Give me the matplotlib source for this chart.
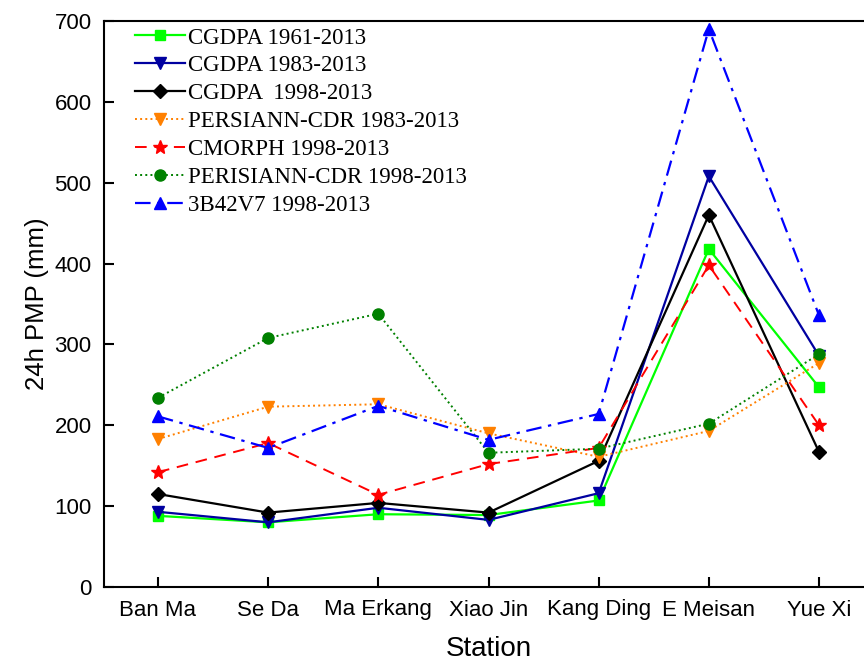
import matplotlib.pyplot as plt

stations = ['Ban Ma', 'Se Da', 'Ma Erkang', 'Xiao Jin', 'Kang Ding', 'E Meisan', 'Yue Xi']

cgdpa_1961 = [88, 80, 90, 89, 107, 418, 247]
cgdpa_1983 = [93, 80, 98, 83, 116, 508, 286]
cgdpa_1998 = [115, 92, 104, 92, 156, 460, 167]
persiann_1983 = [183, 223, 226, 190, 161, 193, 277]
cmorph_1998 = [142, 178, 114, 152, 172, 398, 200]
persiann_1998 = [234, 308, 338, 166, 171, 202, 288]
trmm_1998 = [211, 172, 224, 182, 214, 690, 336]

fig = plt.figure(figsize=(8.64, 6.66), dpi=100)
ax = fig.add_axes([104 / 864, 79 / 666, 769 / 864, 566 / 666])

x = range(len(stations))
ax.plot(x, cgdpa_1961, color='#00ff00', marker='s', ms=7, lw=1.6, label='CGDPA 1961-2013')
ax.plot(x, cgdpa_1983, color='#0000a0', marker='v', ms=9, lw=1.6, label='CGDPA 1983-2013')
ax.plot(x, cgdpa_1998, color='black', marker='D', ms=7, lw=1.6, label='CGDPA  1998-2013')
ax.plot(x, persiann_1983, color='#ff8000', marker='v', ms=9, lw=1.4, ls=':', label='PERSIANN-CDR 1983-2013')
ax.plot(x, cmorph_1998, color='red', marker='*', ms=10, lw=1.4, ls=(0, (6, 4)), label='CMORPH 1998-2013')
ax.plot(x, persiann_1998, color='#008000', marker='o', ms=8, lw=1.4, ls=':', label='PERISIANN-CDR 1998-2013')
ax.plot(x, trmm_1998, color='blue', marker='^', ms=9, lw=1.6, ls=(0, (7, 3, 1.5, 3)), label='3B42V7 1998-2013')

ax.set_xlim(-0.49, 6.49)
ax.set_ylim(0, 700)
ax.set_xticks(list(x))
ax.set_xticklabels(stations)
ax.set_yticks(range(0, 701, 100))
ax.tick_params(direction='in', length=7, width=1.5, labelsize=16, pad=9)
for lab in ax.get_xticklabels() + ax.get_yticklabels():
    lab.set_family('Liberation Sans')
for s in ax.spines.values():
    s.set_linewidth(1.5)

ax.set_xlabel('Station', fontsize=20, family='Liberation Sans', labelpad=11)
ax.set_ylabel('24h PMP (mm)', fontsize=18.5, family='Liberation Sans', labelpad=4)

ax.legend(loc='upper left', bbox_to_anchor=(0.013, 1.025), frameon=False,
          prop={'family': 'Liberation Serif', 'size': 16.5}, handlelength=2.2,
          labelspacing=0.3, handletextpad=0.15)

fig.savefig('out.png', dpi=100)
